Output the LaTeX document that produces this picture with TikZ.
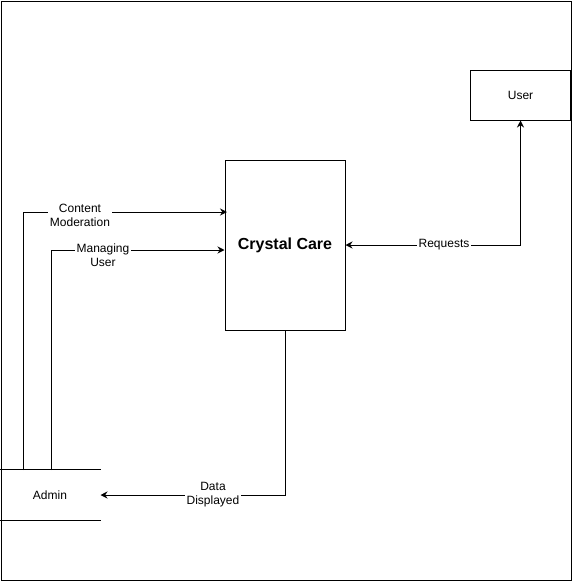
\documentclass[tikz,border=0pt]{standalone}
\usepackage{fontspec}
\setmainfont{Liberation Sans}
\usetikzlibrary{arrows.meta}
\begin{document}
\begin{tikzpicture}[x=1pt,y=-1pt,
  line width=1pt,
  box/.style={draw, line width=1pt, minimum width=120pt, minimum height=170pt, inner sep=0pt, font=\bfseries\fontsize{16}{19}\selectfont},
  ent/.style={inner sep=0pt, minimum width=100pt, minimum height=50pt, font=\fontsize{12}{14}\selectfont},
  lbl/.style={fill=white, inner sep=2pt, align=center, font=\fontsize{12}{14}\selectfont},
  tip/.style={-{Stealth[length=7pt,width=7pt]}},
  bitip/.style={{Stealth[length=7pt,width=7pt]}-{Stealth[length=7pt,width=7pt]}}
]
\useasboundingbox (0,0) rectangle (572,581);
\draw (1,1) rectangle (571,580);
\node[box] (cc) at (285,245) {Crystal Care};
\node[ent, draw] (user) at (520.5,95) {User};
\node[ent] (admin) at (50,495) {Admin};
\draw (admin.north west) -- (admin.north east);
\draw (admin.south west) -- (admin.south east);
\coordinate (a1) at (23,470);
\coordinate (a2) at (51,470);
\draw[tip] (a1) |- (227,212);
\draw[tip] (a2) |- (cc.west |- 0,250);
\draw[bitip] (user.south) |- (cc.east);
\draw[tip] (cc.south) |- (admin.east);
\node[lbl] (l1) at (80,215) {Content\\Moderation};
\node[lbl] (l2) at (103,255) {Managing\\User};
\node[lbl] (l3) at (444,245) {Requests};
\node[lbl] (l4) at (213,495) {Data\\Displayed};
\end{tikzpicture}
\end{document}
